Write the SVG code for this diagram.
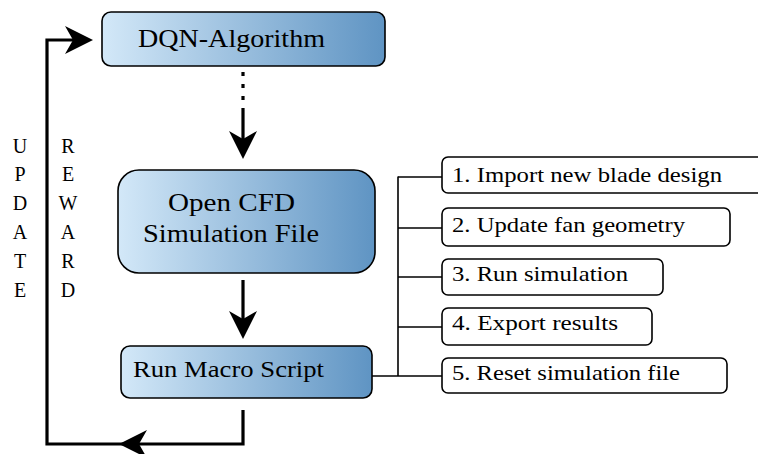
<svg xmlns="http://www.w3.org/2000/svg" width="758" height="454" viewBox="0 0 758 454">
  <defs>
    <linearGradient id="blueFill" x1="0" y1="0" x2="1" y2="0">
      <stop offset="0" stop-color="#d3e8f8"/>
      <stop offset="1" stop-color="#5f94c3"/>
    </linearGradient>
    <!-- stealth arrowhead, tip at origin, pointing along +x -->
    <path id="head" d="M0,0 L-28,-14 L-20,0 L-28,14 Z" fill="#000"/>
  </defs>
  <style>
    .main { fill: url(#blueFill); stroke: #000; stroke-width: 1.6; }
    .step { fill: #fff; stroke: #000; stroke-width: 1.6; }
    .thick { stroke: #000; stroke-width: 3.2; fill: none; }
    .thin { stroke: #000; stroke-width: 1.6; fill: none; }
    text { font-family: "Liberation Serif", "DejaVu Serif", serif; fill: #000; }
  </style>

  <!-- connectors -->
  <g id="connectors">
    <!-- DQN to CFD: dotted then solid -->
    <line class="thick" x1="243" y1="72" x2="243" y2="102" stroke-dasharray="4 8"/>
    <line class="thick" x1="243" y1="108" x2="243" y2="140"/>
    <use href="#head" transform="translate(243,159) rotate(90)"/>
    <!-- CFD to macro -->
    <line class="thick" x1="243" y1="280" x2="243" y2="320"/>
    <use href="#head" transform="translate(243,339) rotate(90)"/>
    <!-- feedback loop -->
    <polyline class="thick" points="243,410 243,444 47,444 47,40 75,40"/>
    <use href="#head" transform="translate(119,444) rotate(180)"/>
    <use href="#head" transform="translate(93,40)"/>
    <!-- macro steps tree -->
    <line class="thin" x1="372" y1="376" x2="442" y2="376"/>
    <line class="thin" x1="398" y1="176.5" x2="398" y2="376"/>
    <line class="thin" x1="398" y1="177" x2="442" y2="177"/>
    <line class="thin" x1="398" y1="228" x2="442" y2="228"/>
    <line class="thin" x1="398" y1="277" x2="442" y2="277"/>
    <line class="thin" x1="398" y1="327" x2="442" y2="327"/>
  </g>

  <g id="dqn">
    <rect class="main" x="102" y="12" width="283" height="54" rx="9"/>
    <text x="138" y="47" font-size="25.5" textLength="187" lengthAdjust="spacingAndGlyphs">DQN-Algorithm</text>
  </g>

  <g id="cfd">
    <rect class="main" x="118" y="170" width="257" height="103" rx="21"/>
    <text x="168" y="211" font-size="26" textLength="127" lengthAdjust="spacingAndGlyphs">Open CFD</text>
    <text x="143" y="242" font-size="26" textLength="176" lengthAdjust="spacingAndGlyphs">Simulation File</text>
  </g>

  <g id="macro">
    <rect class="main" x="121" y="346" width="251" height="52" rx="9"/>
    <text x="133" y="377" font-size="22.5" textLength="191" lengthAdjust="spacingAndGlyphs">Run Macro Script</text>
  </g>

  <g id="step1" font-size="22">
    <rect class="step" x="442" y="157" width="330" height="36" rx="6"/>
    <text x="452" y="182" textLength="270" lengthAdjust="spacingAndGlyphs">1. Import new blade design</text>
  </g>
  <g id="step2" font-size="22">
    <rect class="step" x="442" y="208" width="288" height="38" rx="6"/>
    <text x="452" y="232" textLength="233" lengthAdjust="spacingAndGlyphs">2. Update fan geometry</text>
  </g>
  <g id="step3" font-size="22">
    <rect class="step" x="442" y="259" width="221" height="36" rx="6"/>
    <text x="452" y="281" textLength="176" lengthAdjust="spacingAndGlyphs">3. Run simulation</text>
  </g>
  <g id="step4" font-size="22">
    <rect class="step" x="442" y="308" width="210" height="37" rx="6"/>
    <text x="452" y="330" textLength="166" lengthAdjust="spacingAndGlyphs">4. Export results</text>
  </g>
  <g id="step5" font-size="22">
    <rect class="step" x="442" y="358" width="285" height="35" rx="6"/>
    <text x="452" y="380" textLength="228" lengthAdjust="spacingAndGlyphs">5. Reset simulation file</text>
  </g>

  <g id="update-label" font-size="20" text-anchor="middle">
    <text x="20" y="153">U</text>
    <text x="20" y="181">P</text>
    <text x="20" y="210">D</text>
    <text x="20" y="239">A</text>
    <text x="20" y="268">T</text>
    <text x="20" y="297">E</text>
  </g>
  <g id="reward-label" font-size="20" text-anchor="middle">
    <text x="68" y="153">R</text>
    <text x="68" y="181">E</text>
    <text x="68" y="210">W</text>
    <text x="68" y="239">A</text>
    <text x="68" y="268">R</text>
    <text x="68" y="297">D</text>
  </g>
</svg>
